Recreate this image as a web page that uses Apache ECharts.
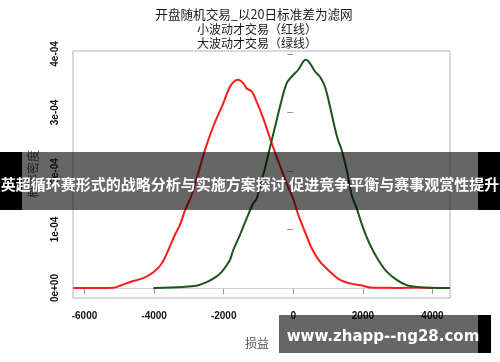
<!DOCTYPE html>
<html>
<head>
<meta charset="utf-8">
<script src="https://cdn.jsdelivr.net/npm/echarts@6/dist/echarts.min.js"></script>
<style>html,body{margin:0;padding:0;background:#fff}#c{width:500px;height:362px}</style>
</head>
<body>
<div id="c"></div>
<script>
// ---- data ----
var titleLines = ['开盘随机交易_以20日标准差为滤网', '小波动才交易（红线）', '大波动才交易（绿线）'];
var xName = '损益';
var yName = '概率密度';
var xTickValues = [-6000, -4000, -2000, 0, 2000, 4000];
var xTickLabels = ['-6000', '-4000', '-2000', '0', '2000', '4000'];
var yTickValues = [0, 0.0001, 0.0002, 0.0003, 0.0004];
var yTickLabels = ['0e+00', '1e-04', '2e-04', '3e-04', '4e-04'];
var bannerText = '英超循环赛形式的战略分析与实施方案探讨 促进竞争平衡与赛事观赏性提升';
var watermarkText = 'www.zhapp--ng28.com';

// red: small-volatility trades
var redX = [-6320, -6130, -5170, -4980, -4600, -4310, -4020, -3780, -3590, -3400, -3256, -3110, -2920, -2537, -2300, -2010, -1820, -1675, -1580, -1437, -1340, -1195, -1052, -862, -670, -477, -190, 0, 144, 336, 529, 767, 1055, 1342, 1629, 1917, 2204, 2600, 3000, 3500, 4010];
var redY = [0.0, 0.0, 0.0000005, 0.000004, 0.000012, 0.000017, 0.000027, 0.000042, 0.000065, 0.000091, 0.000108, 0.000133, 0.000159, 0.000236, 0.000276, 0.000316, 0.000344, 0.000354, 0.000356, 0.000350, 0.000341, 0.000336, 0.000318, 0.000290, 0.000256, 0.000224, 0.000179, 0.000152, 0.000125, 0.000096, 0.000068, 0.000045, 0.000028, 0.000014, 0.000008, 0.000005, 0.000001, 0.0000005, 0.0, 0.000001, 0.0];
// green: large-volatility trades
var greenX = [-4020, -3160, -2780, -2490, -2200, -2050, -1914, -1820, -1724, -1532, -1340, -1150, -1052, -813, -670, -526, -382, -190, 0, 144, 287, 365, 480, 624, 767, 911, 1055, 1198, 1285, 1391, 1534, 1678, 1822, 2011, 2204, 2443, 2684, 2971, 3259, 3546, 3928, 4503];
var greenY = [0.0, 0.000002, 0.000004, 0.000010, 0.000020, 0.000028, 0.000039, 0.000048, 0.000065, 0.000091, 0.000119, 0.000145, 0.000153, 0.000205, 0.000240, 0.000275, 0.000310, 0.000350, 0.000364, 0.000373, 0.000387, 0.000390, 0.000384, 0.000370, 0.000361, 0.000344, 0.000310, 0.000272, 0.000253, 0.000236, 0.000202, 0.000159, 0.000136, 0.000102, 0.000074, 0.000048, 0.000028, 0.000014, 0.000005, 0.000002, 0.0000005, 0.0];

function pairs(xs, ys) { return xs.map(function (x, i) { return [x, ys[i]]; }); }
function yLabel(v) {
  for (var i = 0; i < yTickValues.length; i++) if (Math.abs(v - yTickValues[i]) < 1e-9) return yTickLabels[i];
  return '';
}
function xLabel(v) {
  var i = xTickValues.indexOf(v); return i >= 0 ? xTickLabels[i] : '';
}

var chart = echarts.init(document.getElementById('c'), null, { renderer: 'canvas' });
var cjk = '"Noto Sans CJK SC", sans-serif';
var lab = '"Liberation Sans", Arial, sans-serif';

var option = {
  animation: false,
  backgroundColor: '#fff',
  grid: { left: 73, right: 50, top: 51, bottom: 64, show: true, borderColor: '#b4b4b4', borderWidth: 1, backgroundColor: 'transparent' },
  xAxis: {
    type: 'value', min: -6330, max: 4503,
    axisLine: { show: false },
    splitLine: { show: false },
    axisTick: { show: true, customValues: xTickValues, length: 6, lineStyle: { color: '#999' } },
    axisLabel: { customValues: xTickValues, formatter: xLabel, color: '#111', fontFamily: lab, fontWeight: 'bold', fontSize: 10, margin: 13 }
  },
  yAxis: {
    type: 'value', min: -0.000017, max: 0.000405,
    axisLine: { show: false },
    splitLine: { show: false },
    axisTick: { show: true, customValues: yTickValues, length: 6, lineStyle: { color: '#999' } },
    axisLabel: { customValues: yTickValues, formatter: yLabel, rotate: 90, color: '#111', fontFamily: lab, fontWeight: 'bold', fontSize: 10, margin: 13 }
  },
  series: [
    {
      type: 'line', data: pairs(redX, redY), showSymbol: false, smooth: 0.3,
      lineStyle: { color: '#ff1a1a', width: 2 }, z: 3,
      markLine: { silent: true, symbol: 'none', label: { show: false }, lineStyle: { color: '#cfcfcf', type: 'solid', width: 1 }, data: [{ yAxis: 0 }], z: 1 }
    },
    {
      type: 'line', data: pairs(greenX, greenY), showSymbol: false, smooth: 0.3,
      lineStyle: { color: '#1a561a', width: 2 }, z: 4
    }
  ],
  graphic: [
    { type: 'text', x: 254, y: 14, z: 10, style: { text: titleLines[0], fill: '#1a1a1a', fontSize: 12.6, fontFamily: cjk, align: 'center', verticalAlign: 'middle' } },
    { type: 'text', x: 257, y: 29, z: 10, style: { text: titleLines[1], fill: '#1a1a1a', fontSize: 12, fontFamily: cjk, align: 'center', verticalAlign: 'middle' } },
    { type: 'text', x: 257, y: 43, z: 10, style: { text: titleLines[2], fill: '#1a1a1a', fontSize: 12, fontFamily: cjk, align: 'center', verticalAlign: 'middle' } },
    { type: 'text', x: 257, y: 343, z: 10, style: { text: xName, fill: '#555', fontSize: 12, fontFamily: cjk, align: 'center', verticalAlign: 'middle' } },
    { type: 'text', x: 33, y: 174, rotation: Math.PI / 2, z: 10, style: { text: yName, fill: '#555', fontSize: 12, fontFamily: cjk, align: 'center', verticalAlign: 'middle' } },
    // banner
    { type: 'rect', shape: { x: 0, y: 152, width: 22, height: 58 }, z: 50, style: { fill: '#000' } },
    { type: 'rect', shape: { x: 478, y: 152, width: 22, height: 58 }, z: 50, style: { fill: '#000' } },
    { type: 'rect', shape: { x: 22, y: 152, width: 456, height: 58 }, z: 50, style: { fill: 'rgba(0,0,0,0.6)' } },
    { type: 'text', x: 250, y: 184, z: 51, style: { text: bannerText, fill: '#fff', fontSize: 15, fontWeight: 'bold', fontFamily: cjk, align: 'center', verticalAlign: 'middle' } },
    // watermark
    { type: 'rect', shape: { x: 279, y: 315, width: 199, height: 38 }, z: 50, style: { fill: 'rgba(0,0,0,0.6)' } },
    { type: 'rect', shape: { x: 478, y: 315, width: 13, height: 38 }, z: 50, style: { fill: '#000' } },
    { type: 'text', x: 383, y: 337, z: 51, style: { text: watermarkText, fill: '#fff', fontSize: 15, fontWeight: 'bold', fontFamily: '"DejaVu Sans", sans-serif', align: 'center', verticalAlign: 'middle' } }
  ]
};
chart.setOption(option);
</script>
</body>
</html>
